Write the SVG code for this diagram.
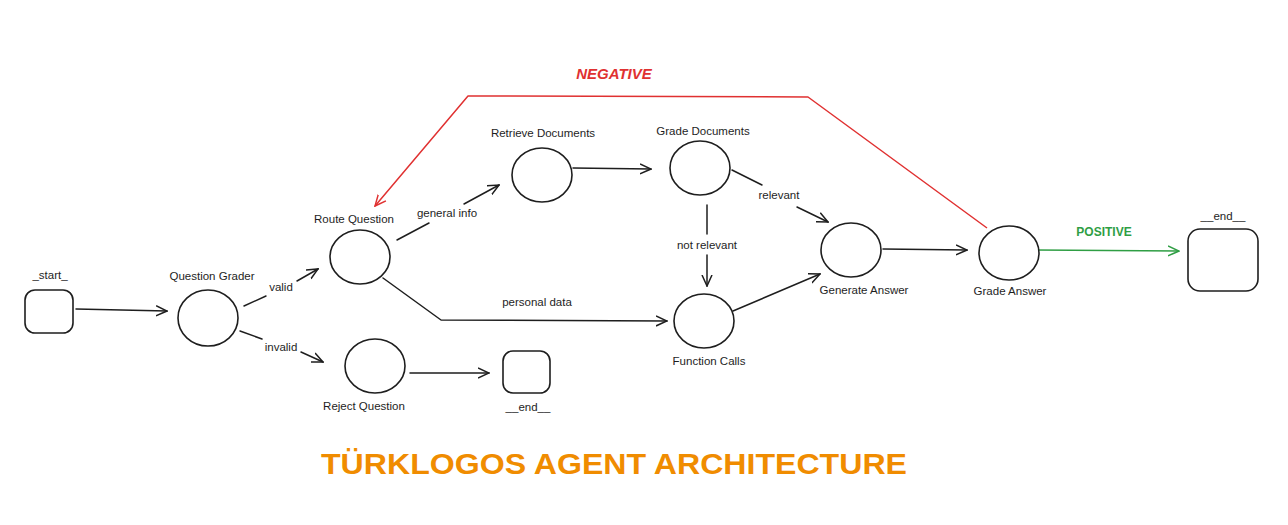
<svg xmlns="http://www.w3.org/2000/svg" width="1288" height="525" viewBox="0 0 1288 525">
<defs>
<style>
.n{fill:#fff;stroke:#1e1e1e;stroke-width:1.6}
.e{fill:none;stroke:#1e1e1e;stroke-width:1.5;stroke-linecap:round;stroke-linejoin:round}
.t{font-family:"Liberation Sans",Arial,sans-serif;font-size:11.5px;fill:#1e1e1e;text-anchor:middle}
.l{font-family:"Liberation Sans",Arial,sans-serif;font-size:11.5px;fill:#1e1e1e;text-anchor:middle}
</style>
<marker id="a" viewBox="0 0 12 12" refX="11" refY="6" markerWidth="12" markerHeight="12" markerUnits="userSpaceOnUse" orient="auto"><path d="M0,1 L11,6 L0,11" fill="none" stroke="#1e1e1e" stroke-width="1.5"/></marker>
<marker id="ar" viewBox="0 0 12 12" refX="11" refY="6" markerWidth="12" markerHeight="12" markerUnits="userSpaceOnUse" orient="auto"><path d="M0,1 L11,6 L0,11" fill="none" stroke="#e03131" stroke-width="1.5"/></marker>
<marker id="ag" viewBox="0 0 12 12" refX="11" refY="6" markerWidth="12" markerHeight="12" markerUnits="userSpaceOnUse" orient="auto"><path d="M0,1 L11,6 L0,11" fill="none" stroke="#2f9e44" stroke-width="1.5"/></marker>
</defs>
<rect width="1288" height="525" fill="#fff"/>

<g id="connectors">
<path class="e" d="M76,309 L167,311" marker-end="url(#a)"/>
<path class="e" d="M244,306 L266,296"/>
<path class="e" d="M297,281 L318,269" marker-end="url(#a)"/>
<path class="e" d="M240,331 L262,339"/>
<path class="e" d="M301,352 L323,362" marker-end="url(#a)"/>
<path class="e" d="M397,240 L429,223"/>
<path class="e" d="M464,204 L499,185" marker-end="url(#a)"/>
<path class="e" d="M383,278 L441,320 L667,321" marker-end="url(#a)"/>
<path class="e" d="M573,168 L651,169" marker-end="url(#a)"/>
<path class="e" d="M732,170 L762,185"/>
<path class="e" d="M797,207 L828,222" marker-end="url(#a)"/>
<path class="e" d="M707,205 L707,234"/>
<path class="e" d="M707,255 L707,286" marker-end="url(#a)"/>
<path class="e" d="M733,311 L820,274" marker-end="url(#a)"/>
<path class="e" d="M883,249 L967,250" marker-end="url(#a)"/>
<path class="e" d="M410,373 L489,373" marker-end="url(#a)"/>
<path fill="none" stroke="#2f9e44" stroke-width="1.5" d="M1036,250 L1179,251" marker-end="url(#ag)"/>
<path fill="none" stroke="#e03131" stroke-width="1.5" stroke-linejoin="round" d="M987,228 L808,97 L468,96 L375,206" marker-end="url(#ar)"/>
<text class="l" x="281" y="291">valid</text>
<text class="l" x="281" y="351">invalid</text>
<text class="l" x="447" y="217">general info</text>
<text class="l" x="537" y="306">personal data</text>
<text class="l" x="779" y="199">relevant</text>
<text class="l" x="707" y="249">not relevant</text>
<text x="1104" y="236" font-family="'Liberation Sans',Arial,sans-serif" font-size="12" font-weight="bold" fill="#2f9e44" text-anchor="middle">POSITIVE</text>
<text x="614" y="79" font-family="'Liberation Sans',Arial,sans-serif" font-size="15" font-weight="bold" font-style="italic" fill="#e03131" text-anchor="middle">NEGATIVE</text>
</g>

<g id="start">
<rect class="n" x="25" y="290" width="48" height="43" rx="10"/>
<text class="t" x="50" y="279">_start_</text>
</g>
<g id="question-grader">
<ellipse class="n" cx="208" cy="318" rx="30" ry="28"/>
<text class="t" x="212" y="280">Question Grader</text>
</g>
<g id="route-question">
<ellipse class="n" cx="360" cy="257" rx="30" ry="27"/>
<text class="t" x="354" y="223">Route Question</text>
</g>
<g id="reject-question">
<ellipse class="n" cx="375" cy="366" rx="30" ry="27"/>
<text class="t" x="364" y="410">Reject Question</text>
</g>
<g id="end-reject">
<rect class="n" x="503" y="351" width="47" height="42" rx="10"/>
<text class="t" x="528" y="411">__end__</text>
</g>
<g id="retrieve-documents">
<ellipse class="n" cx="542" cy="175" rx="30" ry="27"/>
<text class="t" x="543" y="137">Retrieve Documents</text>
</g>
<g id="grade-documents">
<ellipse class="n" cx="700" cy="168" rx="30" ry="27"/>
<text class="t" x="703" y="135">Grade Documents</text>
</g>
<g id="function-calls">
<ellipse class="n" cx="704" cy="321" rx="30" ry="27"/>
<text class="t" x="709" y="365">Function Calls</text>
</g>
<g id="generate-answer">
<ellipse class="n" cx="851" cy="250" rx="30" ry="27"/>
<text class="t" x="864" y="294">Generate Answer</text>
</g>
<g id="grade-answer">
<ellipse class="n" cx="1009" cy="253" rx="30" ry="27"/>
<text class="t" x="1010" y="295">Grade Answer</text>
</g>
<g id="end">
<rect class="n" x="1188" y="229" width="70" height="62" rx="12"/>
<text class="t" x="1223" y="220">__end__</text>
</g>

<text x="614" y="474" font-family="'Liberation Sans',Arial,sans-serif" font-size="29" font-weight="bold" fill="#f08c00" text-anchor="middle" textLength="586" lengthAdjust="spacingAndGlyphs">TÜRKLOGOS AGENT ARCHITECTURE</text>
</svg>
